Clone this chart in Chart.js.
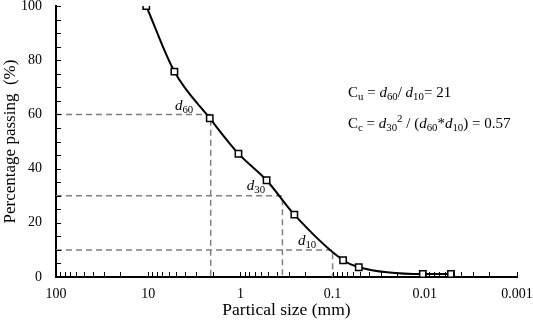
<!DOCTYPE html>
<html>
<head>
<meta charset="utf-8">
<script src="https://cdn.jsdelivr.net/npm/chart.js@4/dist/chart.umd.min.js"></script>
<style>
  html, body { margin: 0; padding: 0; background: #fff; }
  #wrap { width: 533px; height: 324px; }
</style>
</head>
<body>
<div id="wrap"><canvas id="chart"></canvas></div>
<script>
// grain size distribution
const sizes = [10.5, 5.2, 2.15, 1.05, 0.52, 0.26, 0.077, 0.052, 0.0105, 0.0052];
const passing = [100, 75.8, 58.6, 45.5, 35.7, 23.0, 6.2, 3.6, 1.1, 1.1];

// characteristic diameters
const dNames = ['60', '30', '10'];
const dValues = [2.1, 0.35, 0.1];
const dLevels = [60, 30, 10];
const dLabelPos = [[4.1, 63], [0.68, 33.5], [0.19, 13.2]];

// axis ticks
const xTicks = [100, 10, 1, 0.1, 0.01, 0.001];
const xTickLabels = ['100', '10', '1', '0.1', '0.01', '0.001'];
const yTicks = [0, 20, 40, 60, 80, 100];

const serif = '"Liberation Serif", "Times New Roman", serif';

const dashSets = dValues.map((d, i) => ({
    data: [{x: 100, y: dLevels[i]}, {x: d, y: dLevels[i]}, {x: d, y: 0}],
    borderColor: '#808080',
    borderWidth: 1.5,
    borderDash: [6, 4],
    pointRadius: 0,
    tension: 0
}));

// draws text made of runs: {t, it, sub, sup}
function richText(ctx, x, y, runs, size) {
    let cx = x;
    runs.forEach(r => {
        const s = (r.sub || r.sup) ? size * 0.72 : size;
        ctx.font = (r.it ? 'italic ' : '') + s + 'px ' + serif;
        const dy = r.sub ? size * 0.28 : (r.sup ? -size * 0.3 : 0);
        ctx.fillText(r.t, cx, y + dy);
        cx += ctx.measureText(r.t).width;
    });
}

const annotations = {
    id: 'annotations',
    afterDatasetsDraw(chart) {
        const ctx = chart.ctx;
        const xs = chart.scales.x, ys = chart.scales.y;
        const area = chart.chartArea;
        ctx.save();
        ctx.fillStyle = '#000';
        ctx.strokeStyle = '#000';
        ctx.lineWidth = 1;

        // inward tick marks
        ctx.beginPath();
        for (let v = 0; v <= 100; v += 5) {
            const py = Math.round(ys.getPixelForValue(v)) + 0.5;
            ctx.moveTo(area.left, py);
            ctx.lineTo(area.left + 5, py);
        }
        for (let e = -3; e < 2; e++) {
            for (let m = 1; m <= 10; m++) {
                const px = Math.round(xs.getPixelForValue(m * Math.pow(10, e))) + 0.5;
                ctx.moveTo(px, area.bottom);
                ctx.lineTo(px, area.bottom - 5);
            }
        }
        ctx.stroke();

        // d labels
        ctx.textBaseline = 'middle';
        dNames.forEach((n, i) => {
            const px = xs.getPixelForValue(dLabelPos[i][0]);
            const py = ys.getPixelForValue(dLabelPos[i][1]);
            richText(ctx, px - 9, py, [{t: 'd', it: true}, {t: n, sub: true}], 15);
        });

        // coefficients
        const ax = xs.getPixelForValue(0.068);
        richText(ctx, ax, ys.getPixelForValue(68), [
            {t: 'C'}, {t: 'u', sub: true}, {t: ' = '}, {t: 'd', it: true}, {t: '60', sub: true},
            {t: '/ '}, {t: 'd', it: true}, {t: '10', sub: true}, {t: '= 21'}
        ], 15);
        richText(ctx, ax, ys.getPixelForValue(56.5), [
            {t: 'C'}, {t: 'c', sub: true}, {t: ' = '}, {t: 'd', it: true}, {t: '30', sub: true},
            {t: '2', sup: true}, {t: ' / ('}, {t: 'd', it: true}, {t: '60', sub: true},
            {t: '*'}, {t: 'd', it: true}, {t: '10', sub: true}, {t: ') = 0.57'}
        ], 15);
        ctx.restore();
    }
};

new Chart(document.getElementById('chart'), {
    type: 'line',
    data: {
        datasets: [{
            data: sizes.map((s, i) => ({x: s, y: passing[i]})),
            borderColor: '#000',
            borderWidth: 2,
            cubicInterpolationMode: 'monotone',
            pointStyle: 'rect',
            pointRadius: 4.5,
            pointBorderWidth: 1.5,
            pointBorderColor: '#000',
            pointBackgroundColor: '#fff'
        }, ...dashSets]
    },
    options: {
        responsive: true,
        maintainAspectRatio: false,
        animation: false,
        layout: {padding: {top: 5, right: 16, left: 0, bottom: 0}},
        plugins: {legend: {display: false}, tooltip: {enabled: false}},
        scales: {
            x: {
                type: 'logarithmic',
                reverse: true,
                min: 0.001,
                max: 100,
                afterBuildTicks: s => { s.ticks = xTicks.map(v => ({value: v})); },
                afterFit: s => { s.height = 47; s.paddingLeft = 0; s.paddingRight = 0; },
                grid: {display: false, drawTicks: false},
                border: {display: true, color: '#000', width: 2},
                ticks: {
                    color: '#000',
                    padding: 9,
                    maxRotation: 0,
                    autoSkip: false,
                    font: {family: serif, size: 14},
                    callback: (v, i) => xTickLabels[i]
                },
                title: {
                    display: true,
                    text: 'Partical size (mm)',
                    color: '#000',
                    padding: {top: 0, bottom: 3},
                    font: {family: serif, size: 17.5}
                }
            },
            y: {
                min: 0,
                max: 100,
                afterBuildTicks: s => { s.ticks = yTicks.map(v => ({value: v})); },
                afterFit: s => { s.width = 56; s.paddingTop = 0; s.paddingBottom = 0; },
                grid: {display: false, drawTicks: false},
                border: {display: true, color: '#000', width: 2},
                ticks: {
                    color: '#000',
                    padding: 14,
                    font: {family: serif, size: 14}
                },
                title: {
                    display: true,
                    text: 'Percentage passing  (%)',
                    color: '#000',
                    padding: {top: 0, bottom: 0},
                    font: {family: serif, size: 17}
                }
            }
        }
    },
    plugins: [annotations]
});
</script>
</body>
</html>
